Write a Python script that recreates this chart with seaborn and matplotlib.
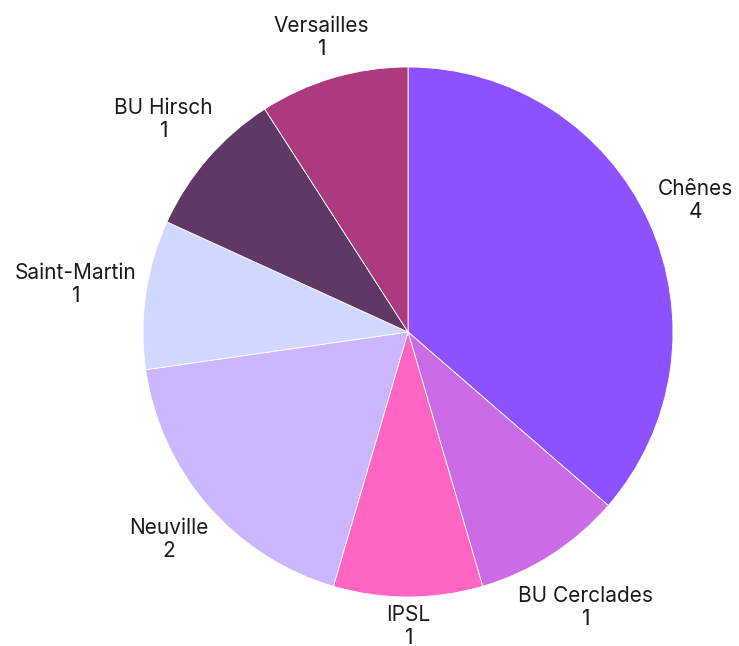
import numpy as np
import matplotlib
matplotlib.use("Agg")
import matplotlib.pyplot as plt
import seaborn as sns

labels = ["Chênes", "BU Cerclades", "IPSL", "Neuville", "Saint-Martin", "BU Hirsch", "Versailles"]
values = [4, 1, 1, 2, 1, 1, 1]
colors = ["#8C52FF", "#CB6CE6", "#FF66C4", "#CBB6FF", "#D0D8FF", "#5E3966", "#AD3A7E"]

sns.set_theme(style="white")
plt.rcParams["font.family"] = ["Inter", "DejaVu Sans"]

W, H = 739, 646
fig = plt.figure(figsize=(W / 100, H / 100), dpi=100)
cx, cy, r = 408, 332, 265
ax = fig.add_axes([(cx - r) / W, (H - cy - r) / H, 2 * r / W, 2 * r / H])

palette = sns.color_palette(colors)
texts_lbl = [f"{l}\n{v}" for l, v in zip(labels, values)]
wedges, texts = ax.pie(values, labels=texts_lbl, colors=palette, startangle=90,
                       counterclock=False, labeldistance=1.2,
                       wedgeprops=dict(edgecolor="white", linewidth=0.6, alpha=1),
                       textprops=dict(fontsize=15, color="#1a1a1a", linespacing=1.2))
ax.set_xlim(-1, 1)
ax.set_ylim(-1, 1)
ax.set_aspect("equal")
ax.axis("off")

fig.canvas.draw()
renderer = fig.canvas.get_renderer()
d0 = 1.03
for t, w in zip(texts, wedges):
    t.set_horizontalalignment("center")
    t.set_verticalalignment("center")
    t.set_multialignment("center")
    t.set_clip_on(False)
    ang = np.deg2rad((w.theta1 + w.theta2) / 2)
    ux, uy = np.cos(ang), np.sin(ang)
    fig.canvas.draw()
    bb = t.get_window_extent(renderer)
    hw = bb.width / 2 / r
    hh = bb.height / 2 / r
    ext = hw * abs(ux) + hh * abs(uy)
    dist = d0 + ext
    t.set_position((dist * ux, dist * uy))

fig.savefig("out.png", dpi=100)
